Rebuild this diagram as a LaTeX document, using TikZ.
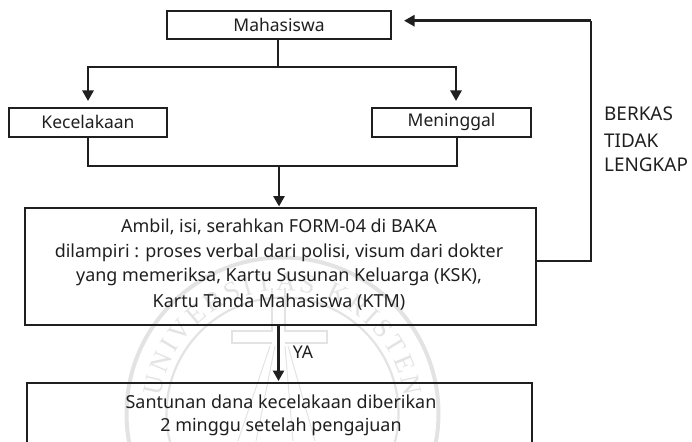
\documentclass[tikz,border=0pt]{standalone}
\usepackage{fontspec}
\setmainfont{Noto Sans}
\newfontfamily\sealfont{Liberation Serif}
\usetikzlibrary{arrows.meta,decorations.text}
\colorlet{ink}{black!88}
\colorlet{seal}{black!11}
\tikzset{
  x=1pt,y=-1pt,
  box/.style={draw=ink,line width=2pt,fill=none,inner sep=0pt,anchor=north west},
  lab/.style={font=\fontsize{17.5}{24.3}\selectfont,text=ink,align=center,inner sep=0pt},
  bigl/.style={lab,font=\fontsize{17.95}{24.3}\selectfont},
  con/.style={draw=ink,line width=2pt},
  arr/.style={draw=ink,line width=2.6pt,-{Triangle[length=10.5pt,width=11pt]}},
  sealline/.style={draw=seal,line width=2.2pt},
  sealfan/.style={draw=seal,line width=1pt}
}
\begin{document}
\begin{tikzpicture}
\useasboundingbox (0,0) rectangle (692,441);
\begin{scope}
\clip (0,0) rectangle (692,441);
% faint seal behind the diagram
\begin{scope}[shift={(282.5,413.5)},y=1pt]
\draw[sealline,line width=4pt] (0,0) circle[radius=156];
\draw[sealline] (0,0) circle[radius=116];
\path[postaction={decorate},decoration={text along path,text align={fit to path},
  text={|\fontsize{27}{27}\sealfont\color{seal}|UNIVERSITAS KRISTEN}}]
  (172:123) arc[start angle=172,end angle=8,radius=123];
\end{scope}
\draw[sealline] (272,288) -- (272,331) -- (232,331) -- (232,343) -- (272,343)
  (285,343) -- (327,343) -- (327,331) -- (285,331) -- (285,288);
\draw[sealfan] (270,346) -- (238,441) (275,346) -- (256,441) (285,346) -- (293,441) (288,346) -- (315,441);
\node[box,minimum width=224pt,minimum height=28pt] (mhs) at (166,10) {};
\node[lab] at (mhs.center) {Mahasiswa};
\node[box,minimum width=158pt,minimum height=29pt] (kec) at (8,107) {};
\node[lab] at ([yshift=1pt]kec.center) {Kecelakaan};
\node[box,minimum width=159pt,minimum height=29pt] (men) at (371,107) {};
\node[lab] at ([yshift=1pt]men.center) {Meninggal};
\node[box,minimum width=511pt,minimum height=117pt] (form) at (24,207) {};
\node[bigl,anchor=center] at (279,265) {Ambil, isi, serahkan FORM-04 di BAKA\\dilampiri : proses verbal dari polisi, visum dari dokter\\yang memeriksa, Kartu Susunan Keluarga (KSK),\\[2pt]Kartu Tanda Mahasiswa (KTM)};
\node[box,minimum width=505pt,minimum height=90pt] (san) at (26,382) {};
\node[bigl,anchor=center] at (281,415.5) {Santunan dana kecelakaan diberikan\\[-1.5pt]2 minggu setelah pengajuan};
\node[lab,align=left,anchor=west,font=\fontsize{18.9}{24.3}\selectfont] (ber) at (604,139.5) {BERKAS\\[2pt]TIDAK\\LENGKAP};
\node[lab,anchor=center] (ya) at (303,352.5) {YA};
\coordinate (split) at (277.5,67);
\coordinate (merge) at (279,166);
\coordinate (fbr) at (590.5,260.5);
\coordinate (fbt) at (590.5,20.7);
\coordinate (fbe) at (404,20.7);
\draw[con] (mhs.south -| split) -- (split);
\draw[con] (88,67) -- (456,67);
\draw[arr] (88,66) -- (88,101);
\draw[arr] (456,66) -- (456,101);
\draw[con] (88,136) |- (merge);
\draw[con] (456.5,136) |- (merge);
\draw[arr] (merge) -- (279,206.5);
\draw[con] (form.east |- fbr) -- (fbr) -- (fbt);
\draw[arr] (fbt) -- (fbe);
\draw[arr] (278.5,324.5) -- (278.5,381);
\end{scope}
\end{tikzpicture}
\end{document}
